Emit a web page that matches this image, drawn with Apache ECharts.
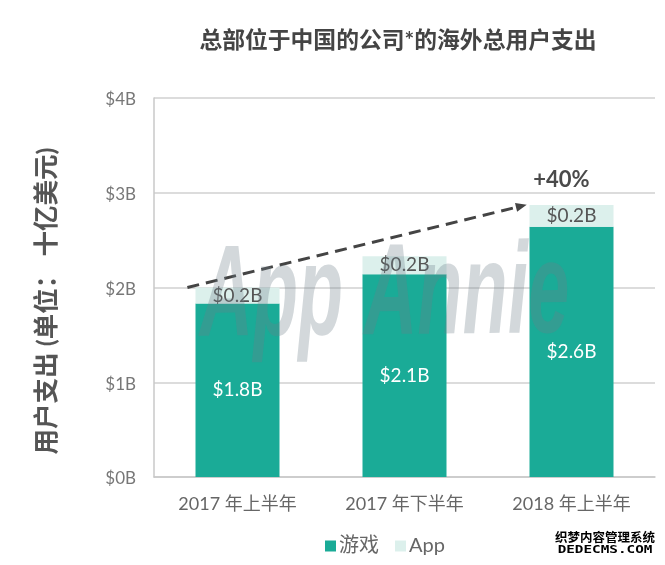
<!DOCTYPE html>
<html>
<head>
<meta charset="utf-8">
<script src="https://cdn.jsdelivr.net/npm/echarts@6/dist/echarts.min.js"></script>
<style>
  html, body { margin: 0; padding: 0; background: #fff; }
  #chart { width: 665px; height: 565px; }
</style>
</head>
<body>
<div id="chart"></div>
<script>
var categories = ['2017 年上半年', '2017 年下半年', '2018 年上半年'];
var gameValues = [1.83, 2.14, 2.64];
var appValues = [0.17, 0.19, 0.23];
var yTicks = [0, 1, 2, 3, 4];

// trend arrow and its label, on the hidden 0-3 x axis
var arrowStart = [0.2, 2.0];
var arrowEnd = [2.2, 2.86];
var growthLabel = '+40%';
var growthPos = [2.44, 3.14];

var fontStack = 'Lato, "Noto Sans CJK SC", sans-serif';

var chart = echarts.init(document.getElementById('chart'));

function billions(p) {
  return '$' + p.value.toFixed(1) + 'B';
}

var option = {
  animation: false,
  textStyle: { fontFamily: fontStack },
  title: {
    text: '总部位于中国的公司*的海外总用户支出',
    left: 393,
    top: 24,
    textAlign: 'center',
    textStyle: { fontSize: 22.8, fontWeight: 'bold', color: '#444', fontFamily: fontStack }
  },
  legend: {
    left: 320,
    top: 531,
    itemWidth: 11,
    itemHeight: 11,
    itemGap: 16,
    icon: 'rect',
    textStyle: { fontSize: 20, color: '#666', padding: [0, 0, 0, -2] },
    data: ['游戏', 'App']
  },
  grid: { left: 154, right: 10, top: 98, bottom: 88 },
  xAxis: [
    {
      type: 'category',
      data: categories,
      axisTick: { show: false },
      axisLine: { lineStyle: { color: '#c8c8c8', width: 1.5 } },
      axisLabel: { fontSize: 18, color: '#666', margin: 18 }
    },
    { type: 'value', min: 0, max: 3, show: false, splitLine: { show: false } }
  ],
  yAxis: {
    type: 'value',
    min: yTicks[0],
    max: yTicks[yTicks.length - 1],
    interval: 1,
    axisLine: { show: true, lineStyle: { color: '#c8c8c8', width: 1.5 } },
    axisTick: { show: false },
    axisLabel: {
      fontSize: 17,
      color: '#777',
      margin: 18,
      verticalAlign: 'top',
      lineHeight: 4,
      formatter: function (v) { return '$' + v + 'B'; }
    },
    splitLine: { lineStyle: { color: '#d0d0d0', width: 1.5 } }
  },
  series: [
    {
      name: '游戏',
      type: 'bar',
      stack: 'total',
      barWidth: 84,
      itemStyle: { color: '#1aab97' },
      label: { show: true, position: 'inside', fontSize: 19, color: '#fff', formatter: billions },
      data: gameValues
    },
    {
      name: 'App',
      type: 'bar',
      stack: 'total',
      barWidth: 84,
      itemStyle: { color: '#dcf0ec' },
      label: { show: true, position: 'inside', fontSize: 19, color: '#555', formatter: billions },
      data: appValues
    },
    {
      name: 'trend',
      type: 'line',
      xAxisIndex: 1,
      data: [],
      silent: true,
      markLine: {
        silent: true,
        symbol: ['none', 'triangle'],
        symbolSize: [9, 11],
        label: { show: false },
        lineStyle: { type: [12, 7], width: 3, color: '#444' },
        data: [[{ coord: arrowStart }, { coord: arrowEnd }]]
      },
      markPoint: {
        silent: true,
        symbol: 'rect',
        symbolSize: 1,
        itemStyle: { color: 'transparent' },
        label: {
          show: true,
          position: 'inside',
          formatter: growthLabel,
          fontSize: 22,
          fontWeight: 'bold',
          color: '#4a4a4a'
        },
        data: [{ coord: growthPos }]
      }
    }
  ],
  graphic: [
    {
      type: 'text',
      x: 47,
      y: 301,
      rotation: Math.PI / 2,
      style: {
        text: '用户支出 (单位： 十亿美元)',
        font: 'bold 25.5px Lato, "Noto Sans CJK SC", sans-serif',
        textAlign: 'center',
        textVerticalAlign: 'middle',
        fill: '#555'
      }
    },
    {
      // App Annie watermark sits over the bars
      type: 'text',
      z: 50,
      x: 200,
      y: 365,
      rotation: 0.01,
      scaleX: 0.74,
      scaleY: 1.3,
      style: {
        text: 'App Annie',
        font: 'italic bold 100px "Liberation Sans Narrow", "Liberation Sans", sans-serif',
        textVerticalAlign: 'bottom',
        fill: 'rgba(110,125,135,0.3)'
      }
    },
    {
      type: 'text',
      z: 60,
      x: 605,
      y: 537,
      style: {
        text: '织梦内容管理系统',
        font: 'bold 12.5px "Noto Sans CJK SC"',
        textAlign: 'center',
        textVerticalAlign: 'middle',
        fill: '#000',
        stroke: '#fff',
        lineWidth: 2
      }
    },
    {
      type: 'text',
      z: 60,
      x: 605,
      y: 550,
      scaleX: 1.3,
      style: {
        text: 'DEDECMS.COM',
        font: 'bold 11px "DejaVu Sans Mono"',
        textAlign: 'center',
        textVerticalAlign: 'middle',
        fill: '#000',
        stroke: '#fff',
        lineWidth: 2
      }
    }
  ]
};

chart.setOption(option);
</script>
</body>
</html>
